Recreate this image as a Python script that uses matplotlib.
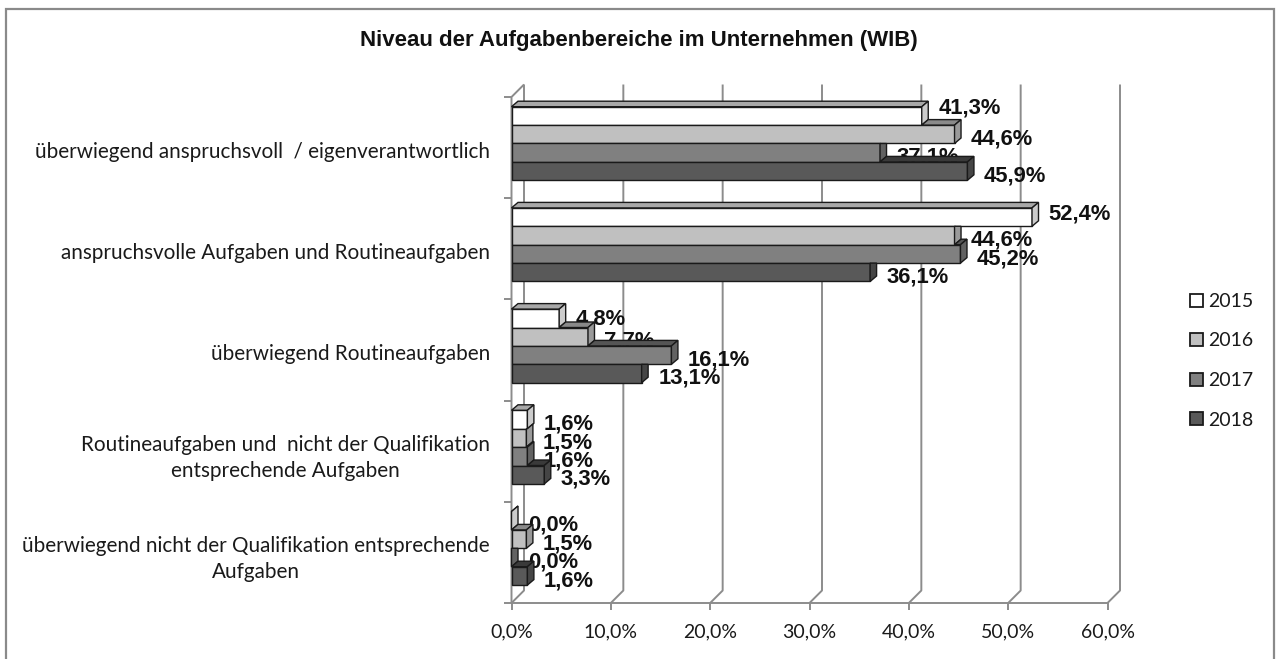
import matplotlib
matplotlib.use("Agg")
import matplotlib.pyplot as plt
from matplotlib.patches import Polygon, Rectangle

# ---------------- data ----------------
categories = [
    "überwiegend anspruchsvoll  / eigenverantwortlich",
    "anspruchsvolle Aufgaben und Routineaufgaben",
    "überwiegend Routineaufgaben",
    "Routineaufgaben und  nicht der Qualifikation\nentsprechende Aufgaben",
    "überwiegend nicht der Qualifikation entsprechende\nAufgaben",
]
years = ["2015", "2016", "2017", "2018"]
v2015 = [41.3, 52.4, 4.8, 1.6, 0.0]
v2016 = [44.6, 44.6, 7.7, 1.5, 1.5]
v2017 = [37.1, 45.2, 16.1, 1.6, 0.0]
v2018 = [45.9, 36.1, 13.1, 3.3, 1.6]
x_ticks = [0, 10, 20, 30, 40, 50, 60]
x_tick_labels = ["0,0%", "10,0%", "20,0%", "30,0%", "40,0%", "50,0%", "60,0%"]
title = "Niveau der Aufgabenbereiche im Unternehmen (WIB)"

series = [v2015, v2016, v2017, v2018]

# ---------------- style ----------------
front_col = ["#ffffff", "#c0c0c0", "#808080", "#595959"]
top_col = ["#a8a8a8", "#8a8a8a", "#555555", "#3a3a3a"]
side_col = ["#cccccc", "#9a9a9a", "#626262", "#454545"]
edge = "#1a1a1a"
grid_col = "#8c8c8c"
text_col = "#1a1a1a"

W, H = 1277, 659
fig = plt.figure(figsize=(W / 100, H / 100), dpi=100)

X0, X1 = 511.5, 1107.5   # front plane x pixels for 0% and 60%
YB, YT = 603.0, 97.0     # front plane y pixels (from top) for bottom / top
ax = fig.add_axes([X0 / W, (H - YB) / H, (X1 - X0) / W, (YB - YT) / H])
ax.set_xlim(0, 60)
ax.set_ylim(0, 5)
ax.set_facecolor("none")
for s in ax.spines.values():
    s.set_visible(False)

px = 60.0 / (X1 - X0)
py = 5.0 / (YB - YT)

# outer border
fig.patches.append(Rectangle((6 / W, -0.05), (1274 - 6) / W, 1.05 - 9 / H,
                             transform=fig.transFigure, fill=False,
                             edgecolor="#8a8a8a", linewidth=1.6, zorder=0))

# back-wall depth
GX, GY = 12.5 * px, 12.5 * py
lk = dict(color=grid_col, linewidth=1.4, clip_on=False, solid_capstyle="butt")
for t in x_ticks:
    ax.plot([t, t + GX, t + GX], [0, GY, 5 + GY], zorder=1, **lk)
# left axis and top diagonal
ax.plot([0, 0, GX], [0, 5, 5 + GY], zorder=1, **lk)
# bottom axis
ax.plot([0, 60], [0, 0], zorder=1, **lk)

# ticks / labels through axes
ax.set_xticks(x_ticks)
ax.set_xticklabels(x_tick_labels)
ax.tick_params(axis="x", length=5, width=1.4, color=grid_col, pad=10,
               labelsize=14, labelcolor=text_col)
for lab in ax.get_xticklabels():
    lab.set_fontfamily("Lato")

ncat = len(categories)
ax.set_yticks([ncat - i - 0.5 - 2 * py for i in range(ncat)])
ax.set_yticklabels(categories)
ax.set_yticks(list(range(ncat + 1)), minor=True)
ax.tick_params(axis="y", which="major", length=0, pad=15.5, labelsize=14.9,
               labelcolor=text_col)
ax.tick_params(axis="y", which="minor", length=6, width=1.4, color=grid_col)
for lab in ax.get_yticklabels():
    lab.set_fontfamily("Lato")
    lab.set_multialignment("center")
    lab.set_linespacing(1.38)

# bars
BH = 18.4 * py
TOP_OFF = 9.7 * py
DX, DY = 6.5 * px, 5.5 * py
S = DY / DX
LABEL_NUDGE = {(0, 0): -13.0, (1, 0): -8.0, (2, 0): -4.5}

for i in range(ncat):
    cat_top = ncat - i
    for j, vals in enumerate(series):
        v = vals[i]
        top = cat_top - TOP_OFF - j * BH
        bot = top - BH
        u = None if j == 0 else series[j - 1][i]
        z = 3 + 2 * j
        pk = dict(edgecolor=edge, linewidth=1.0, clip_on=False,
                  joinstyle="miter", zorder=z)
        # front
        ax.add_patch(Rectangle((0, bot), v, BH, facecolor=front_col[j], **pk))
        # top face (visible part)
        xs = 0 if u is None else u
        if u is None or v > u:
            ax.add_patch(Polygon([(xs, top), (v, top), (v + DX, top + DY),
                                  (xs + DX, top + DY)], closed=True,
                                 facecolor=top_col[j], **pk))
        # side face (visible part)
        if u is None or u <= v:
            pts = [(v, bot), (v + DX, bot + DY), (v + DX, top + DY), (v, top)]
        else:
            c = min(max(u, v), v + DX)
            pts = [(v, bot), (v + DX, bot + DY), (v + DX, top + (v + DX - c) * S),
                   (c, top), (v, top)]
        ax.add_patch(Polygon(pts, closed=True, facecolor=side_col[j], **pk))
        # value label
        dy_px = 2.5 + LABEL_NUDGE.get((i, j), 0.0)
        ax.annotate(f"{v:.1f}".replace(".", ",") + "%",
                    xy=(v, (top + bot) / 2), xycoords="data",
                    xytext=(16.5 * 0.72, -(dy_px + 7.8) * 0.72),
                    textcoords="offset points", ha="left", va="baseline",
                    fontsize=15.8, fontweight="bold", family="Liberation Sans",
                    color="#111111", zorder=z + 1, annotation_clip=False)

# title
fig.text(639 / W, 1 - 45.7 / H, title, ha="center", va="baseline",
         fontsize=16, fontweight="bold", family="Liberation Sans",
         color="#111111")

# legend (manual)
for k, (yr, fc) in enumerate(zip(years, front_col)):
    yc = 300 + k * 39.5
    fig.patches.append(Rectangle((1189.5 / W, 1 - (yc + 6.5) / H), 13 / W, 13 / H,
                                 transform=fig.transFigure, facecolor=fc,
                                 edgecolor=edge, linewidth=1.3))
    fig.text(1208 / W, 1 - yc / H, yr, ha="left", va="center_baseline",
             fontsize=14, family="Lato", color=text_col)

fig.savefig("out.png", dpi=100)
